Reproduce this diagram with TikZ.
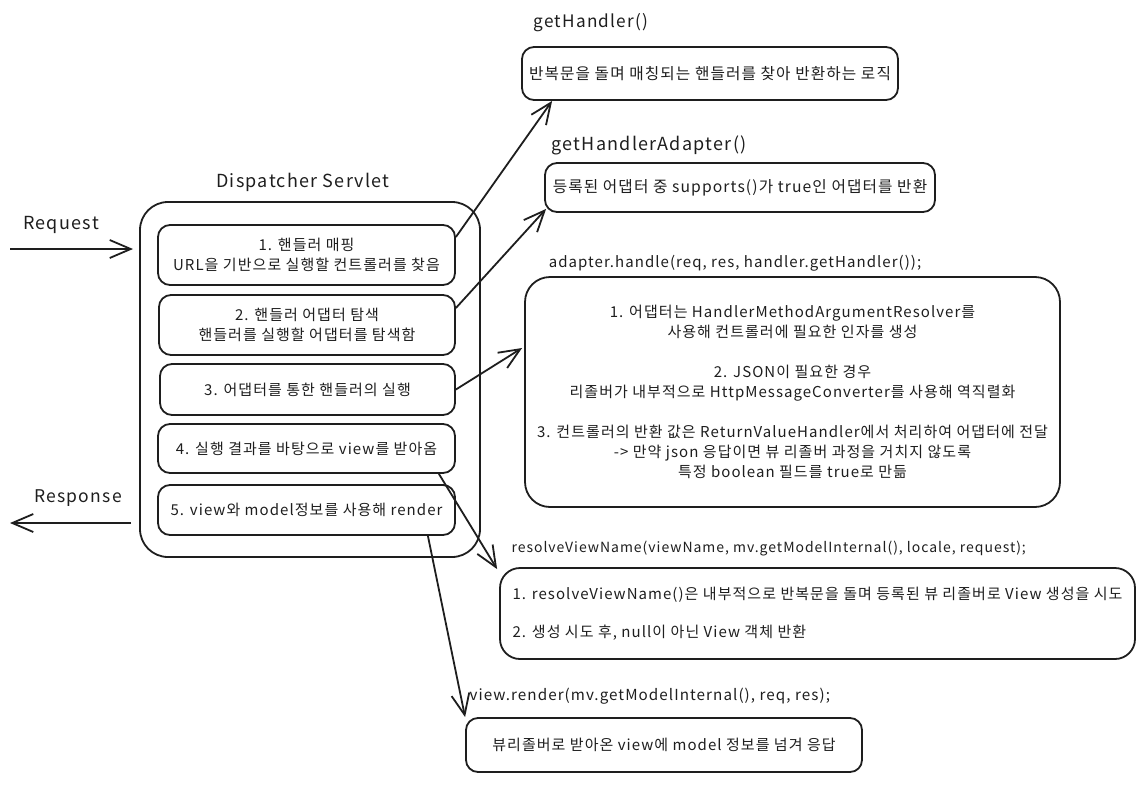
\documentclass[tikz,border=0pt]{standalone}
\usepackage{fontspec}
\setmainfont[LetterSpace=7]{Noto Sans CJK KR}
\usetikzlibrary{arrows.meta}

\definecolor{tinta}{HTML}{1E1E1E}

\tikzset{
    caixa/.style={draw=tinta, line width=1.8pt, rounded corners=12pt, inner sep=0pt},
    seta/.style={draw=tinta, line width=1.8pt, -{Straight Barb[length=21pt,width=18pt]}},
    titulo/.style={font=\fontsize{18}{22}\selectfont},
    codigo/.style={font=\fontsize{15}{19}\selectfont},
    texto/.style={font=\fontsize{15}{20}\selectfont},
}

\begin{document}
\begin{tikzpicture}[x=1pt, y=-1pt, every node/.style={text=tinta}]
        \useasboundingbox (0, 0) rectangle (1143, 787);

        \node[titulo] (dst) at (303, 182) { Dispatcher Servlet };
        \node[caixa, rounded corners=28pt, minimum width=340, minimum height=355] (ds) at (310, 379.5) {};

        \node[caixa, texto, minimum width=297, minimum height=60, align=center] (s1) at (306.5, 255) { 1. 핸들러 매핑 \\ URL을 기반으로 실행할 컨트롤러를 찾음 };
        \node[caixa, texto, minimum width=296, minimum height=60, align=center] (s2) at (307, 325) { 2. 핸들러 어댑터 탐색 \\ 핸들러를 실행할 어댑터를 탐색함 };
        \node[caixa, texto, minimum width=295, minimum height=51] (s3) at (307.5, 389.5) { 3. 어댑터를 통한 핸들러의 실행 };
        \node[caixa, texto, minimum width=297, minimum height=49] (s4) at (306.5, 448.5) { 4. 실행 결과를 바탕으로 view를 받아옴 };
        \node[caixa, texto, minimum width=297, minimum height=50] (s5) at (306.5, 510) { 5. view와 model정보를 사용해 render };

        \node[titulo] (rqt) at (61, 225) { Request };
        \coordinate (rqa) at (10, 249);
        \coordinate (rqb) at (133, 249);
        \draw[seta] (rqa) -- (rqb);

        \node[titulo, font=\fontsize{17.5}{21}\selectfont] (rst) at (78, 498) { Response };
        \coordinate (rsa) at (131, 523);
        \coordinate (rsb) at (10, 523);
        \draw[seta] (rsa) -- (rsb);

        \node[titulo, font=\fontsize{17.2}{21}\selectfont] (ght) at (591, 23) { getHandler() };
        \node[caixa, texto, font=\fontsize{15.7}{20}\selectfont, minimum width=376, minimum height=53] (gh) at (710, 73.5) { 반복문을 돌며 매칭되는 핸들러를 찾아 반환하는 로직 };

        \node[titulo] (ghat) at (649, 145) { getHandlerAdapter() };
        \node[caixa, texto, font=\fontsize{15.7}{20}\selectfont, minimum width=390, minimum height=49] (gha) at (740, 187.5) { 등록된 어댑터 중 supports()가 true인 어댑터를 반환 };

        \node[codigo] (hdt) at (735, 263) { adapter.handle(req, res, handler.getHandler()); };
        \node[caixa, texto, rounded corners=25pt, minimum width=535, minimum height=230, align=center] (hd) at (792.5, 392) { 1. 어댑터는 HandlerMethodArgumentResolver를 \\ 사용해 컨트롤러에 필요한 인자를 생성 \\[20pt] 2. JSON이 필요한 경우 \\ 리졸버가 내부적으로 HttpMessageConverter를 사용해 역직렬화 \\[20pt] 3. 컨트롤러의 반환 값은 ReturnValueHandler에서 처리하여 어댑터에 전달 \\ -> 만약 json 응답이면 뷰 리졸버 과정을 거치지 않도록 \\ 특정 boolean 필드를 true로 만듦 };

        \node[codigo, font=\fontsize{14}{18}\selectfont, anchor=west] (rvt) at (508, 549) { resolveViewName(viewName, mv.getModelInternal(), locale, request); };
        \node[caixa, texto, rounded corners=20pt, minimum width=635, minimum height=91, align=left] (rv) at (817.5, 613.5) { 1. resolveViewName()은 내부적으로 반복문을 돌며 등록된 뷰 리졸버로 View 생성을 시도 \\[18pt] 2. 생성 시도 후, null이 아닌 View 객체 반환 };

        \node[codigo, font=\fontsize{15.2}{19}\selectfont, anchor=west] (vrt) at (466, 696) { view.render(mv.getModelInternal(), req, res); };
        \node[caixa, texto, minimum width=396, minimum height=54] (vr) at (664, 745) { 뷰리졸버로 받아온 view에 model 정보를 넘겨 응답 };

        \draw[seta] ([yshift=18pt]s1.east) to ([xshift=31pt]gh.south west);
        \draw[seta] ([yshift=17pt]s2.east) to ([shift={(2pt,4pt)}]gha.south west);
        \draw[seta] (s3.east) to ([shift={(-2pt,44pt)}]hd.west);
        \draw[seta] ([xshift=-17pt]s4.south east) to ([shift={(-2pt,-2pt)}]rv.north west);
        \draw[seta] ([xshift=-28pt]s5.south east) to (vr.north west);

    \end{tikzpicture}
\end{document}
